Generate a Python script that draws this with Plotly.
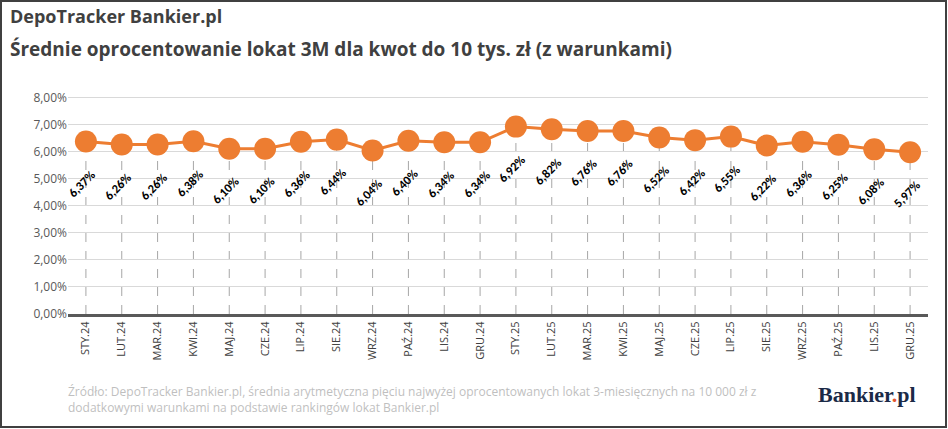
import plotly.graph_objects as go

months = ["STY.24", "LUT.24", "MAR.24", "KWI.24", "MAJ.24", "CZE.24", "LIP.24", "SIE.24",
          "WRZ.24", "PAŹ.24", "LIS.24", "GRU.24", "STY.25", "LUT.25", "MAR.25", "KWI.25",
          "MAJ.25", "CZE.25", "LIP.25", "SIE.25", "WRZ.25", "PAŹ.25", "LIS.25", "GRU.25"]
rates = [6.37, 6.26, 6.26, 6.38, 6.10, 6.10, 6.36, 6.44, 6.04, 6.40, 6.34, 6.34,
         6.92, 6.82, 6.76, 6.76, 6.52, 6.42, 6.55, 6.22, 6.36, 6.25, 6.08, 5.97]
y_ticks = [0, 1, 2, 3, 4, 5, 6, 7, 8]

orange = "#ED7D31"
W, H = 948, 429
L, R, T, B = 68, 20, 96, 115
PW, PH = W - L - R, H - T - B


def px(x):
    return (x - L) / PW


def py(y):
    return (H - B - y) / PH


fig = go.Figure()
fig.add_trace(go.Scatter(
    x=months, y=rates, mode="lines+markers",
    line=dict(color=orange, width=3),
    marker=dict(color=orange, size=22),
    hoverinfo="skip", cliponaxis=False,
))

# dashed drop lines
for m, r in zip(months, rates):
    fig.add_shape(type="line", xref="x", yref="y", x0=m, x1=m, y0=0, y1=r,
                  line=dict(color="#A6A6A6", width=1, dash="dash"), layer="below")

# value labels
for m, r in zip(months, rates):
    fig.add_annotation(x=m, y=r, text="<b>" + f"{r:.2f}".replace(".", ",") + "%</b>",
                       textangle=-45, showarrow=False, xanchor="center", yanchor="middle",
                       yshift=-42, xshift=-4,
                       font=dict(size=12.5, color="black", family="Carlito, Liberation Sans"))

fig.add_annotation(xref="paper", yref="paper", x=px(8), y=py(2), xanchor="left", yanchor="top",
                   text="<b>DepoTracker Bankier.pl</b>", showarrow=False,
                   font=dict(size=18, color="#404040", family="Open Sans"))
fig.add_annotation(xref="paper", yref="paper", x=px(8), y=py(34), xanchor="left", yanchor="top",
                   text="<b>Średnie oprocentowanie lokat 3M dla kwot do 10 tys. zł (z warunkami)</b>",
                   showarrow=False, font=dict(size=19, color="#404040", family="Open Sans"))

fig.add_annotation(xref="paper", yref="paper", x=px(66), y=py(381), xanchor="left", yanchor="top",
                   text="Źródło: DepoTracker Bankier.pl, średnia arytmetyczna pięciu najwyżej oprocentowanych lokat 3-miesięcznych na 10 000 zł z<br>dodatkowymi warunkami na podstawie rankingów lokat Bankier.pl",
                   showarrow=False, align="left", font=dict(size=12, color="#BFBFBF"))
fig.add_annotation(xref="paper", yref="paper", x=px(918), y=py(380), xanchor="right", yanchor="top",
                   text="<b>Bankier<span style='color:#E4572E'>.</span>pl</b>", showarrow=False,
                   font=dict(size=22, color="#1B2A47", family="Liberation Serif"))
fig.add_shape(type="rect", xref="paper", yref="paper", x0=px(1), x1=px(946), y0=py(427), y1=py(1),
              line=dict(color="#404040", width=2))

fig.update_layout(
    width=W, height=H,
    margin=dict(l=L, r=R, t=T, b=B, autoexpand=False),
    paper_bgcolor="white", plot_bgcolor="white",
    showlegend=False,
    font=dict(family="Open Sans", color="#595959", size=11),
    xaxis=dict(type="category", range=[-0.5, len(months) - 0.5], tickangle=-90,
               showgrid=False, ticks="",
               showline=True, linecolor="#595959", linewidth=3,
               tickfont=dict(size=11, color="#404040")),
    yaxis=dict(range=[0, 8.05], tickvals=y_ticks,
               ticktext=[f"{v:.2f}".replace(".", ",") + "%" for v in y_ticks],
               gridcolor="#D9D9D9", gridwidth=1, zeroline=False,
               tickfont=dict(size=12, color="#595959")),
)

fig.write_html("out.html", config={"displayModeBar": False},
               post_script="document.body.style.margin='0';document.body.style.overflow='hidden';")
